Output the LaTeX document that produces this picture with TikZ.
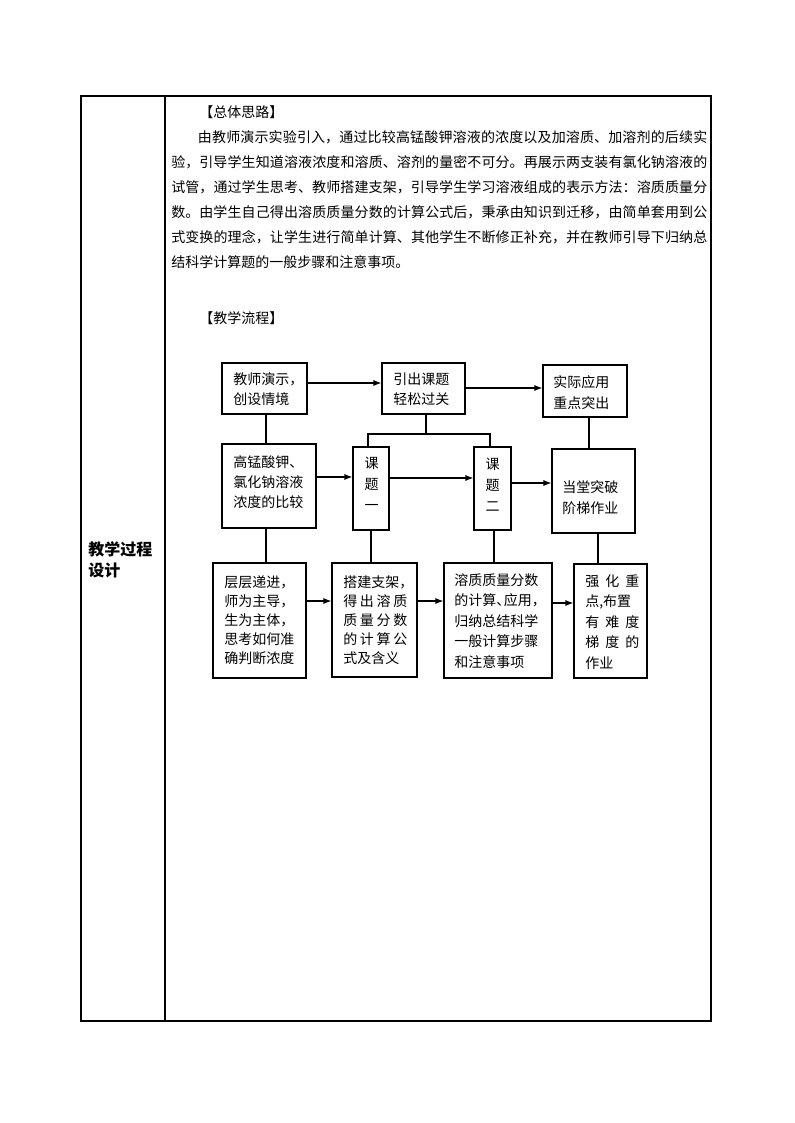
\documentclass[tikz,border=0pt]{standalone}
\usepackage{fontspec}
\setmainfont{Noto Sans CJK SC}
\usetikzlibrary{arrows.meta,fit}
\XeTeXlinebreaklocale "zh"
\XeTeXlinebreakskip=0pt plus 1pt
\tikzset{
  box/.style={draw, line width=0.8pt, inner sep=0pt},
  conn/.style={line width=0.8pt},
  arr/.style={line width=0.8pt, -{Latex[length=6pt,width=4.5pt]}},
  tbl/.style={line width=0.9pt},
  txt/.style={inner sep=0pt, anchor=west, align=left, font=\fontsize{10.5pt}{15pt}\selectfont},
}
\begin{document}
\begin{tikzpicture}[x=0.75pt,y=-0.75pt]
\useasboundingbox (0,0) rectangle (794,1123);
% table
\draw[tbl] (81,96) rectangle (711,1021);
\draw[tbl] (165,96) -- (165,1021);
\node[inner sep=0pt, anchor=west, align=left, font=\fontsize{12pt}{15.75pt}\selectfont\bfseries] (cell) at (88,559.5) {教学过程\\设计};
% headings and paragraph
\node[inner sep=0pt, anchor=west, font=\fontsize{10.5pt}{18.75pt}\selectfont] (h1) at (199,112) {【总体思路】};
\node[inner sep=0pt, anchor=west, text width=402pt, align=justify, font=\fontsize{10.5pt}{18.75pt}\selectfont] (para) at (171,199.5) {\hspace*{20pt}由教师演示实验引入，通过比较高锰酸钾溶液的浓度以及加溶质、加溶剂的后续实\linebreak 验，引导学生知道溶液浓度和溶质、溶剂的量密不可分。再展示两支装有氯化钠溶液的\linebreak 试管，通过学生思考、教师搭建支架，引导学生学习溶液组成的表示方法：溶质质量分\linebreak 数。由学生自己得出溶质质量分数的计算公式后，秉承由知识到迁移，由简单套用到公\linebreak 式变换的理念，让学生进行简单计算、其他学生不断修正补充，并在教师引导下归纳总\linebreak 结科学计算题的一般步骤和注意事项。};
\node[inner sep=0pt, anchor=west, font=\fontsize{10.5pt}{18.75pt}\selectfont] (h2) at (199,318) {【教学流程】};
% boxes
\node[box, fit={(222,363) (307,414)}] (A) {};
\node[box, fit={(382,363) (465,414)}] (B) {};
\node[box, fit={(543,365) (627,417)}] (C) {};
\node[box, fit={(222,444) (316,528)}] (D) {};
\node[box, fit={(353,447) (389,530)}] (E) {};
\node[box, fit={(474,447) (511,530)}] (F) {};
\node[box, fit={(552,449) (635,533)}] (G) {};
\node[box, fit={(213,563) (306,678)}] (H) {};
\node[box, fit={(332,563) (417,677)}] (I) {};
\node[box, fit={(444,563) (552,678)}] (J) {};
\node[box, fit={(574,564) (647,678)}] (K) {};
% texts
\node[txt, font=\fontsize{10.5pt}{15pt}\selectfont] (tA) at (233,389.5) {教师演示，\\创设情境};
\node[txt, font=\fontsize{10.5pt}{15pt}\selectfont] (tB) at (393,389.5) {引出课题\\轻松过关};
\node[txt, font=\fontsize{10.5pt}{15.75pt}\selectfont] (tC) at (553,392.5) {实际应用\\重点突出};
\node[txt, font=\fontsize{10.5pt}{15pt}\selectfont] (tD) at (233,482.5) {高锰酸钾、\\氯化钠溶液\\浓度的比较};
\node[txt, anchor=center, align=center, font=\fontsize{10.5pt}{15.75pt}\selectfont] (tE) at (371.5,484) {课\\题\\一};
\node[txt, anchor=center, align=center, font=\fontsize{10.5pt}{15.75pt}\selectfont] (tF) at (492.5,485) {课\\题\\二};
\node[txt, font=\fontsize{10.5pt}{15.75pt}\selectfont] (tG) at (562,497.5) {当堂突破\\阶梯作业};
\node[txt, font=\fontsize{10.5pt}{14.25pt}\selectfont] (tH) at (224,620) {层层递进，\\师为主导，\\生为主体，\\思考如何准\\确判断浓度};
\node[txt, font=\fontsize{10.5pt}{14.25pt}\selectfont] (tI) at (343,620) {搭建支架，\\\makebox[48pt][s]{得\hfill 出\hfill 溶\hfill 质}\\\makebox[48pt][s]{质\hfill 量\hfill 分\hfill 数}\\\makebox[48pt][s]{的\hfill 计\hfill 算\hfill 公}\\式及含义};
\node[txt, font=\fontsize{10.5pt}{15.4pt}\selectfont] (tJ) at (454,621) {溶质质量分数\\的计算\makebox[0.55em][l]{、}应用，\\归纳总结科学\\一般计算步骤\\和注意事项};
\node[txt, font=\fontsize{10.5pt}{15.4pt}\selectfont] (tK) at (585,622) {\makebox[40.5pt][s]{强\hfill 化\hfill 重}\\点,布置\\\makebox[40.5pt][s]{有\hfill 难\hfill 度}\\\makebox[40.5pt][s]{梯\hfill 度\hfill 的}\\作业};
% connectors
\coordinate (j1) at (368,434);
\coordinate (j2) at (490,434);
\coordinate (hub) at (426,434);
\draw[arr] (A.east |- 0,383) -- (B.west |- 0,383);
\draw[arr] (B.east |- 0,388) -- (C.west |- 0,388);
\draw[conn] (B.south -| hub) -- (hub);
\draw[conn] (E.north -| j1) -- (j1) -- (j2) -- (F.north -| j2);
\draw[conn] (A.south -| 266,0) -- (D.north -| 266,0);
\draw[conn] (C.south -| 589,0) -- (G.north -| 589,0);
\draw[arr] (D.east |- 0,477) -- (E.west |- 0,477);
\draw[arr] (E.east |- 0,478) -- (F.west |- 0,478);
\draw[arr] (F.east |- 0,483) -- (G.west |- 0,483);
\draw[conn] (D.south -| 266,0) -- (H.north -| 266,0);
\draw[conn] (E.south -| 371,0) -- (I.north -| 371,0);
\draw[conn] (F.south -| 494,0) -- (J.north -| 494,0);
\draw[conn] (G.south -| 598,0) -- (K.north -| 598,0);
\draw[arr] (H.east |- 0,601) -- (I.west |- 0,601);
\draw[arr] (I.east |- 0,601) -- (J.west |- 0,601);
\draw[arr] (J.east |- 0,603) -- (K.west |- 0,603);
\end{tikzpicture}
\end{document}
